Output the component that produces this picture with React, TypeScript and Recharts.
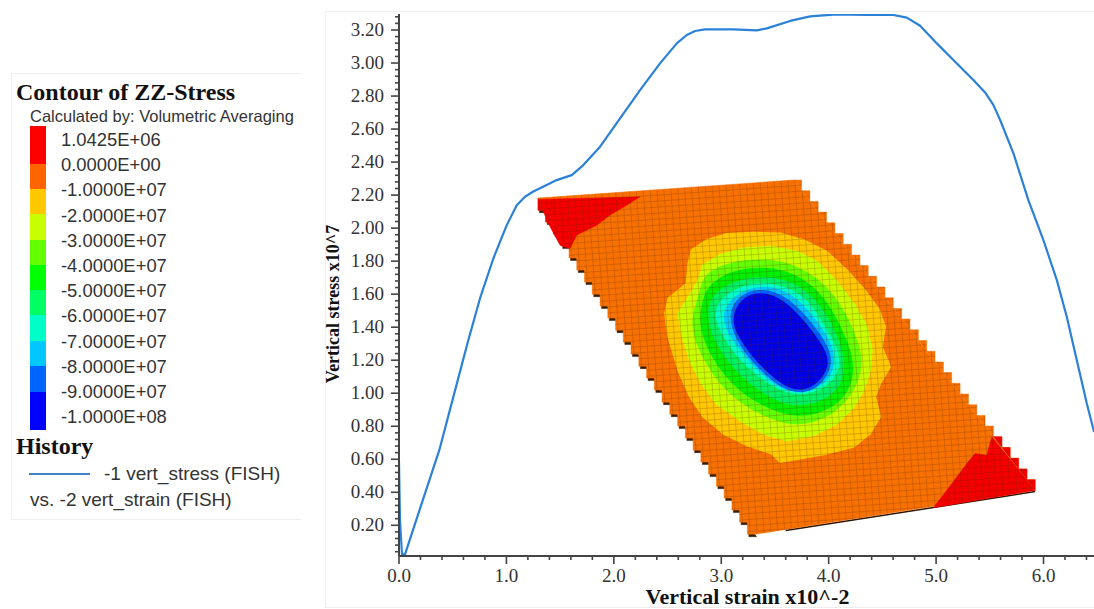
import React from "react";
import { ComposedChart, Line, Scatter, XAxis, YAxis, Label } from "recharts";

type P = { x: number; y: number };
const pts = (a: number[][]): P[] => a.map(([x, y]) => ({ x, y }));

const historyCurve = pts([
  [0, 0.582], [0.009, 0.23], [0.028, 0.024], [0.056, 0.024], [0.2, 0.31], [0.375, 0.655], [0.506, 0.978], [0.645, 1.321],
  [0.754, 1.574], [0.878, 1.816], [1.003, 2.018], [1.096, 2.139], [1.173, 2.19], [1.25, 2.222], [1.313, 2.241],
  [1.468, 2.291], [1.608, 2.321], [1.716, 2.382], [1.872, 2.493], [2.058, 2.665], [2.244, 2.836], [2.43, 2.998],
  [2.586, 3.119], [2.679, 3.17], [2.756, 3.194], [2.849, 3.204], [3.113, 3.204], [3.331, 3.198], [3.424, 3.21],
  [3.641, 3.255], [3.827, 3.283], [4.075, 3.295], [4.355, 3.291], [4.602, 3.291], [4.727, 3.275], [4.851, 3.226],
  [5.007, 3.119], [5.177, 3.008], [5.347, 2.897], [5.456, 2.822], [5.534, 2.745], [5.596, 2.655], [5.72, 2.453],
  [5.859, 2.17], [5.999, 1.927], [6.124, 1.685], [6.217, 1.462], [6.31, 1.2], [6.403, 0.938], [6.471, 0.765],
]);

const plate = pts([[1.294, 2.182], [3.669, 2.291], [5.922, 0.412], [3.316, 0.146]]);
const bottomEdge = pts([[3.6, 0.168], [5.922, 0.404]]);
const leftSteps = pts([
  [1.294, 2.182], [1.366, 2.109], [1.438, 2.037], [1.511, 1.964], [1.583, 1.891], [1.655, 1.819], [1.727, 1.746], [1.799, 1.673],
  [1.872, 1.6], [1.944, 1.528], [2.016, 1.455], [2.088, 1.382], [2.16, 1.31], [2.233, 1.237], [2.305, 1.164], [2.377, 1.092],
  [2.449, 1.019], [2.521, 0.946], [2.594, 0.873], [2.666, 0.801], [2.738, 0.728], [2.81, 0.655], [2.882, 0.583], [2.955, 0.51],
  [3.027, 0.437], [3.099, 0.365], [3.171, 0.292], [3.243, 0.219], [3.316, 0.146],
]);
const rightSteps = pts([
  [3.669, 2.291], [3.747, 2.226], [3.824, 2.161], [3.902, 2.097], [3.98, 2.032], [4.058, 1.967], [4.135, 1.902], [4.213, 1.837],
  [4.291, 1.773], [4.368, 1.708], [4.446, 1.643], [4.524, 1.578], [4.601, 1.513], [4.679, 1.449], [4.757, 1.384], [4.835, 1.319],
  [4.912, 1.254], [4.99, 1.189], [5.068, 1.125], [5.145, 1.06], [5.223, 0.995], [5.301, 0.93], [5.378, 0.865], [5.456, 0.801],
  [5.534, 0.736], [5.612, 0.671], [5.689, 0.606], [5.767, 0.541], [5.845, 0.476], [5.922, 0.412],
]);
const redTopLeft = pts([[1.297, 2.174], [2.244, 2.19], [2.12, 2.139], [1.965, 2.079], [1.841, 2.018], [1.654, 1.958], [1.592, 1.877], [1.499, 1.897], [1.39, 2.028]]);
const redBottomRight = pts([[5.922, 0.412], [4.975, 0.307], [5.1, 0.412], [5.193, 0.493], [5.286, 0.574], [5.363, 0.635], [5.472, 0.624], [5.519, 0.735]]);

const gold = pts([[2.725, 1.867], [2.865, 1.927], [3.051, 1.964], [3.299, 1.972], [3.547, 1.968], [3.765, 1.927], [3.982, 1.857], [4.168, 1.745], [4.323, 1.634], [4.463, 1.513], [4.525, 1.402], [4.494, 1.281], [4.572, 1.16], [4.479, 1.059], [4.432, 0.978], [4.479, 0.857], [4.385, 0.756], [4.23, 0.675], [3.982, 0.634], [3.734, 0.604], [3.547, 0.584], [3.47, 0.634], [3.237, 0.685], [3.02, 0.756], [2.834, 0.857], [2.709, 0.978], [2.601, 1.139], [2.508, 1.341], [2.477, 1.483], [2.508, 1.574], [2.678, 1.665], [2.694, 1.786]]);
const lime = pts([[2.834, 1.776], [2.989, 1.836], [3.206, 1.877], [3.454, 1.887], [3.703, 1.857], [3.889, 1.796], [4.075, 1.675], [4.23, 1.543], [4.354, 1.402], [4.401, 1.261], [4.385, 1.139], [4.323, 1.018], [4.23, 0.917], [4.075, 0.816], [3.858, 0.745], [3.61, 0.715], [3.392, 0.756], [3.175, 0.836], [2.958, 0.937], [2.818, 1.059], [2.709, 1.2], [2.632, 1.362], [2.601, 1.483], [2.709, 1.594], [2.787, 1.685]]);
const lightGreen = pts([[2.849, 1.715], [3.02, 1.776], [3.237, 1.806], [3.485, 1.806], [3.703, 1.766], [3.889, 1.695], [4.044, 1.594], [4.168, 1.463], [4.261, 1.321], [4.308, 1.2], [4.277, 1.079], [4.168, 0.958], [4.013, 0.867], [3.796, 0.816], [3.61, 0.816], [3.392, 0.867], [3.175, 0.947], [2.989, 1.059], [2.865, 1.18], [2.772, 1.301], [2.725, 1.422], [2.772, 1.543], [2.818, 1.644]]);
const green = pts([[2.88, 1.644], [3.051, 1.725], [3.268, 1.756], [3.485, 1.756], [3.687, 1.715], [3.858, 1.644], [3.998, 1.533], [4.106, 1.402], [4.199, 1.261], [4.23, 1.139], [4.184, 1.018], [4.044, 0.917], [3.827, 0.867], [3.641, 0.867], [3.423, 0.917], [3.206, 0.998], [3.035, 1.109], [2.911, 1.23], [2.834, 1.341], [2.803, 1.453], [2.834, 1.564]]);
const springGreen = pts([[2.927, 1.594], [3.082, 1.665], [3.299, 1.701], [3.516, 1.695], [3.703, 1.655], [3.858, 1.574], [3.982, 1.463], [4.075, 1.341], [4.137, 1.22], [4.137, 1.099], [4.044, 0.998], [3.858, 0.937], [3.641, 0.927], [3.454, 0.978], [3.253, 1.069], [3.082, 1.18], [2.973, 1.291], [2.896, 1.402], [2.88, 1.503]]);
const teal = pts([[2.973, 1.554], [3.144, 1.634], [3.33, 1.665], [3.532, 1.655], [3.718, 1.604], [3.858, 1.513], [3.966, 1.392], [4.075, 1.271], [4.106, 1.16], [4.013, 1.059], [3.827, 0.998], [3.641, 0.998], [3.47, 1.049], [3.284, 1.139], [3.129, 1.24], [3.02, 1.352], [2.942, 1.453]]);
const cyan = pts([[3.02, 1.513], [3.175, 1.614], [3.361, 1.644], [3.547, 1.634], [3.734, 1.554], [3.889, 1.432], [4.013, 1.311], [4.06, 1.19], [3.998, 1.079], [3.827, 1.018], [3.641, 1.008], [3.47, 1.069], [3.299, 1.17], [3.144, 1.291], [3.035, 1.402]]);
const blue = pts([[3.066, 1.483], [3.175, 1.594], [3.361, 1.63], [3.547, 1.604], [3.734, 1.503], [3.889, 1.382], [4.013, 1.251], [4.019, 1.16], [3.935, 1.059], [3.78, 1.002], [3.61, 1.018], [3.439, 1.099], [3.284, 1.2], [3.144, 1.321]]);
const darkBlue = pts([[3.107, 1.463], [3.191, 1.574], [3.361, 1.61], [3.532, 1.58], [3.703, 1.483], [3.858, 1.362], [3.982, 1.24], [3.991, 1.16], [3.904, 1.069], [3.765, 1.018], [3.61, 1.038], [3.454, 1.119], [3.299, 1.22], [3.144, 1.362]]);

const bands: [P[], string, string][] = [
  [gold, "#FFC800", "linearClosed"], [lime, "#C8FF00", "linearClosed"], [lightGreen, "#64FF00", "basisClosed"], [green, "#00F000", "basisClosed"], [springGreen, "#00F064", "basisClosed"],
  [teal, "#00FFC8", "basisClosed"], [cyan, "#00C8FF", "basisClosed"], [blue, "#0064FF", "basisClosed"], [darkBlue, "#0000E6", "basisClosed"],
];

const legendLabels = ["1.0425E+06", "0.0000E+00", "-1.0000E+07", "-2.0000E+07", "-3.0000E+07", "-4.0000E+07", "-5.0000E+07", "-6.0000E+07", "-7.0000E+07", "-8.0000E+07", "-9.0000E+07", "-1.0000E+08"];
const legendColors = ["#FF0000", "#FF6400", "#FFC800", "#C8FF00", "#64FF00", "#00FF00", "#00FF64", "#00FFC8", "#00C8FF", "#0064FF", "#0000FF"];
const legendStops = [126, 164, 189, 214, 240, 265, 290, 315, 341, 366, 392, 430];

const xMajor = [0, 1, 2, 3, 4, 5, 6];
const yMajor = [0.2, 0.4, 0.6, 0.8, 1, 1.2, 1.4, 1.6, 1.8, 2, 2.2, 2.4, 2.6, 2.8, 3, 3.2];
const xTicks: number[] = [];
for (let i = 0; i <= 32; i++) xTicks.push(+(i * 0.2).toFixed(1));
const yTicks: number[] = [];
for (let i = 1; i <= 82; i++) yTicks.push(+(i * 0.04).toFixed(2));

const serif = "'Liberation Serif', serif";
const sans = "'Liberation Sans', sans-serif";
const isMajor = (list: number[], v: number) => list.some((m) => Math.abs(m - v) < 1e-6);

const XTick = (p: any) => {
  const v = p.payload.value;
  const maj = isMajor(xMajor, v);
  return (
    <g>
      <line x1={p.x} x2={p.x} y1={p.y} y2={p.y + (maj ? 8 : 4)} stroke="#444" strokeWidth={1.6} />
      {maj && <text x={p.x} y={p.y + 26} textAnchor="middle" fontFamily={serif} fontSize={19} fill="#333">{v.toFixed(1)}</text>}
    </g>
  );
};
const YTick = (p: any) => {
  const v = p.payload.value;
  const maj = isMajor(yMajor, v);
  return (
    <g>
      <line x1={p.x} x2={p.x - (maj ? 8 : 4)} y1={p.y} y2={p.y} stroke="#444" strokeWidth={1.6} />
      {maj && <text x={p.x - 15} y={p.y + 6} textAnchor="end" fontFamily={serif} fontSize={19} fill="#333">{v.toFixed(2)}</text>}
    </g>
  );
};

const Poly = (data: P[], fill: string, key: string, joint = "basisClosed", extra: any = {}) => (
  <Scatter key={key} data={data} isAnimationActive={false} shape={() => <g />} line={{ fill, stroke: fill, strokeWidth: 0.5, ...extra }} lineJointType={joint as any} legendType="none" />
);

const T = ({ x, y, size, bold, family, children }: any) => (
  <div style={{ position: "absolute", left: x, top: y - 15, lineHeight: "30px", fontSize: size, fontWeight: bold ? 700 : 400, fontFamily: family, color: bold ? "#111" : "#333", whiteSpace: "nowrap" }}>{children}</div>
);

export default function App() {
  return (
    <div style={{ position: "absolute", left: 0, top: 0, width: 1094, height: 609, overflow: "hidden", background: "#fff" }}>
      <svg width={0} height={0} style={{ position: "absolute" }}>
        <defs>
          <pattern id="mesh" width={6.9} height={6} patternUnits="userSpaceOnUse" patternTransform="rotate(-4)">
            <path d="M0 0H6.9M0 0V6" stroke="#5a2a00" strokeOpacity={0.45} strokeWidth={1} fill="none" />
          </pattern>
        </defs>
      </svg>
      <div style={{ position: "absolute", left: 11, top: 73, width: 289, height: 445, borderTop: "1px solid #eee", borderBottom: "1px solid #eee", borderLeft: "1px solid #f3f3f3" }} />
      <div style={{ position: "absolute", left: 325, top: 11, width: 769, height: 595, borderTop: "1px solid #eee", borderBottom: "1px solid #eee", borderLeft: "1px solid #eee" }} />

      <T x={16} y={92} size={24} bold family={serif}>Contour of ZZ-Stress</T>
      <T x={30} y={116} size={16.5} family={sans}>Calculated by: Volumetric Averaging</T>
      {legendColors.map((c, i) => (
        <div key={c} style={{ position: "absolute", left: 30, top: legendStops[i], width: 16, height: legendStops[i + 1] - legendStops[i], background: c }} />
      ))}
      {legendLabels.map((l, i) => (
        <T key={l} x={61} y={140 + i * 25.2} size={18.4} family={sans}>{l}</T>
      ))}
      <T x={16} y={446} size={24} bold family={serif}>History</T>
      <div style={{ position: "absolute", left: 29, top: 473, width: 61, height: 2, background: "#3E82C8" }} />
      <T x={104} y={474} size={19} family={sans}>-1 vert_stress (FISH)</T>
      <T x={30} y={500} size={19} family={sans}>vs. -2 vert_strain (FISH)</T>

      <div style={{ position: "absolute", left: 0, top: 0 }}>
        <ComposedChart width={1094} height={609} margin={{ top: 14, right: 0, bottom: 0, left: 319 }}>
          <XAxis
            dataKey="x" type="number" domain={[0, 6.47]} ticks={xTicks} interval={0} allowDataOverflow
            tickSize={0} tickMargin={0} tickLine={false} tick={XTick} height={53}
            axisLine={{ stroke: "#444", strokeWidth: 2 }}
          >
            <Label content={() => <text x={747.5} y={604} textAnchor="middle" fontFamily={serif} fontWeight={700} fontSize={22} fill="#111">Vertical strain x10^-2</text>} />
          </XAxis>
          <YAxis
            dataKey="y" type="number" domain={[0.014, 3.297]} ticks={yTicks} interval={0} allowDataOverflow
            tickSize={0} tickMargin={0} tickLine={false} tick={YTick} width={80}
            axisLine={{ stroke: "#444", strokeWidth: 2 }}
          >
            <Label content={() => <text transform="translate(339,304) rotate(-90)" textAnchor="middle" fontFamily={serif} fontWeight={700} fontSize={18} fill="#111">Vertical stress x10^7</text>} />
          </YAxis>

          {Poly(leftSteps, "#3a1c06", "leftShadow", "stepBefore", { transform: "translate(1.5,2.5)" })}
          {Poly(bottomEdge, "none", "bottomShadow", "linear", { stroke: "#2a1200", strokeWidth: 1.5 })}
          {Poly(leftSteps, "#F87000", "leftTeeth", "stepBefore")}
          {Poly(rightSteps, "#F87000", "rightTeeth", "stepAfter")}
          {Poly(plate, "#F87000", "plate", "linearClosed")}
          {Poly(redTopLeft, "#F40000", "redTL", "linearClosed")}
          {Poly(redBottomRight, "#F40000", "redBR", "linearClosed")}
          {Poly(leftSteps.slice(0, 5), "#F40000", "leftRedTeeth", "stepBefore")}
          {Poly(rightSteps.slice(24), "#F40000", "rightRedTeeth", "stepAfter")}
          {bands.map(([d, c, j], i) => Poly(d, c, "band" + i, j, { strokeLinejoin: "round", strokeWidth: 2 }))}
          {Poly(plate, "url(#mesh)", "mesh", "linearClosed", { stroke: "none" })}
          {Poly(leftSteps, "url(#mesh)", "meshL", "stepBefore", { stroke: "none" })}
          {Poly(rightSteps, "url(#mesh)", "meshR", "stepAfter", { stroke: "none" })}
          <Line data={historyCurve} dataKey="y" type="linear" stroke="#2B80D8" strokeWidth={2.2} strokeLinejoin="round" dot={false} isAnimationActive={false} legendType="none" />
        </ComposedChart>
      </div>
    </div>
  );
}
